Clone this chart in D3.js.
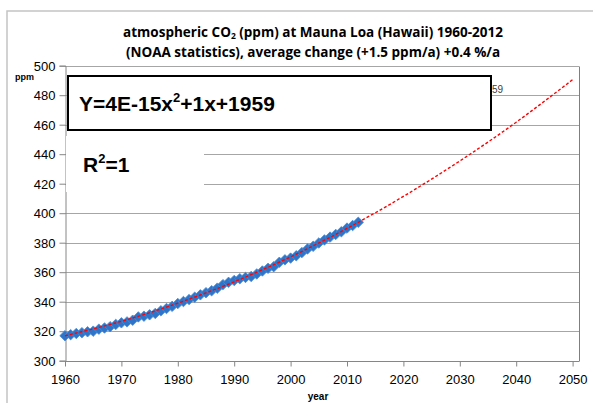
<!DOCTYPE html>
<html>
<head>
<meta charset="utf-8">
<script src="https://cdn.jsdelivr.net/npm/d3@7"></script>
<style>
  body { margin: 0; background: #fff; }
  text { font-family: "Liberation Sans", Arial, sans-serif; }
</style>
</head>
<body>
<script>
// annual means, Mauna Loa
const years = d3.range(1960, 2013);
const co2 = [316.91, 317.64, 318.45, 318.99, 319.62, 320.04, 321.38, 322.16, 323.04, 324.62,
  325.68, 326.32, 327.45, 329.68, 330.18, 331.11, 332.04, 333.83, 335.40, 336.84,
  338.75, 340.11, 341.45, 343.05, 344.65, 346.12, 347.42, 349.19, 351.57, 353.12,
  354.39, 355.61, 356.45, 357.10, 358.83, 360.82, 362.61, 363.73, 366.70, 368.38,
  369.55, 371.14, 373.28, 375.80, 377.52, 379.80, 381.90, 383.79, 385.60, 387.43,
  389.90, 391.65, 393.85];

// quadratic trend
const trendYears = [1960, 1970, 1980, 1990, 2000, 2010, 2020, 2030, 2040, 2050];
const trendValues = [316.9, 326.7, 339.0, 353.5, 370.4, 389.7, 411.4, 435.4, 461.7, 490.5];

const xTicks = [1960, 1970, 1980, 1990, 2000, 2010, 2020, 2030, 2040, 2050];
const yTicks = [300, 320, 340, 360, 380, 400, 420, 440, 460, 480, 500];

const titleLines = ["atmospheric CO", "(NOAA statistics), average change (+1.5 ppm/a) +0.4 %/a"];

const W = 593, H = 403;
const svg = d3.select("body").append("svg").attr("width", W).attr("height", H);

// outer frame
svg.append("path")
  .attr("d", `M7,${H} V11 H${W}`)
  .attr("fill", "none").attr("stroke", "#c4c4c4").attr("stroke-width", 1.5);

const x = d3.scaleLinear().domain([1960, 2050]).range([65, 572.6]);
const y = d3.scaleLinear().domain([300, 500]).range([360.7, 65.7]);
const right = 579;

// gridlines
svg.append("g").selectAll("line")
  .data(yTicks.slice(1))
  .join("line")
  .attr("x1", x(1960)).attr("x2", right)
  .attr("y1", d => Math.round(y(d)) + 0.5).attr("y2", d => Math.round(y(d)) + 0.5)
  .attr("stroke", "#a6a6a6").attr("stroke-width", 1);

// plot frame right side
svg.append("line")
  .attr("x1", right + 0.5).attr("x2", right + 0.5)
  .attr("y1", Math.round(y(500)) + 0.5).attr("y2", Math.round(y(300)) + 0.5)
  .attr("stroke", "#7f7f7f");

// axes
const xAxis = d3.axisBottom(x).tickValues(xTicks).tickFormat(d3.format("d")).tickSize(5).tickPadding(6);
const yAxis = d3.axisLeft(y).tickValues(yTicks).tickSize(6).tickPadding(4);

const gx = svg.append("g").attr("transform", `translate(0,${Math.round(y(300)) + 0.5})`).call(xAxis);
gx.select(".domain").attr("d", `M${x(1960)},0H${right}`);
const gy = svg.append("g").attr("transform", `translate(${Math.round(x(1960)) + 0.5},0)`).call(yAxis);
[gx, gy].forEach(g => {
  g.select(".domain").attr("stroke", "#868686");
  g.selectAll(".tick line").attr("stroke", "#868686");
  g.selectAll(".tick text").attr("font-size", 13).attr("fill", "#000")
    .attr("font-family", "'Liberation Sans', Arial, sans-serif");
});
gx.selectAll(".tick text").attr("dy", "0.9em");
gy.selectAll(".tick text").attr("dy", "0.35em");

// data markers
svg.append("g").selectAll("path")
  .data(years.map((yr, i) => [yr, co2[i]]))
  .join("path")
  .attr("d", d3.symbol(d3.symbolDiamond2, 70))
  .attr("transform", d => `translate(${x(d[0])},${y(d[1])})`)
  .attr("fill", "#2e75c9").attr("stroke", "#4a8ad4").attr("stroke-width", 0.8);

// trend line
const line = d3.line().x(d => x(d[0])).y(d => y(d[1])).curve(d3.curveNatural);
svg.append("path")
  .datum(trendYears.map((yr, i) => [yr, trendValues[i]]))
  .attr("d", line)
  .attr("fill", "none").attr("stroke", "#ff0000").attr("stroke-width", 1.4)
  .attr("stroke-dasharray", "3,2");

// hidden trendline label peeking out
svg.append("text").attr("x", 492).attr("y", 93).attr("font-size", 10).attr("fill", "#404040").text("59");

// equation box
svg.append("rect").attr("x", 68).attr("y", 76).attr("width", 423).attr("height", 54)
  .attr("fill", "#fff").attr("stroke", "#000").attr("stroke-width", 2);
const eq = svg.append("text").attr("x", 79).attr("y", 111)
  .attr("font-size", 21).attr("font-weight", "bold");
eq.append("tspan").text("Y=4E-15x");
eq.append("tspan").attr("font-size", 13).attr("dy", -9).text("2");
eq.append("tspan").attr("dy", 9).text("+1x+1959");

// R² label
svg.append("rect").attr("x", 66).attr("y", 136).attr("width", 138).attr("height", 56).attr("fill", "#fff");
const r2 = svg.append("text").attr("x", 83).attr("y", 172)
  .attr("font-size", 21).attr("font-weight", "bold");
r2.append("tspan").text("R");
r2.append("tspan").attr("font-size", 13).attr("dy", -9).text("2");
r2.append("tspan").attr("dy", 9).text("=1");

// title
const t1 = svg.append("text").attr("x", 313).attr("y", 37).attr("text-anchor", "middle")
  .attr("font-size", 13.5).attr("font-weight", "bold").style("font-family", "'Open Sans', sans-serif");
t1.append("tspan").text(titleLines[0]);
t1.append("tspan").attr("font-size", 8.5).attr("dy", 2).text("2");
t1.append("tspan").attr("dy", -2).text(" (ppm) at Mauna Loa (Hawaii) 1960-2012");
svg.append("text").attr("x", 313).attr("y", 56.5).attr("text-anchor", "middle")
  .attr("font-size", 13.5).attr("font-weight", "bold").style("font-family", "'Open Sans', sans-serif")
  .text(titleLines[1]);

// axis titles
svg.append("text").attr("x", 15).attr("y", 80).attr("font-size", 9).attr("font-weight", "bold").text("ppm");
svg.append("text").attr("x", 318).attr("y", 400).attr("text-anchor", "middle")
  .attr("font-size", 10).attr("font-weight", "bold").text("year");
</script>
</body>
</html>
